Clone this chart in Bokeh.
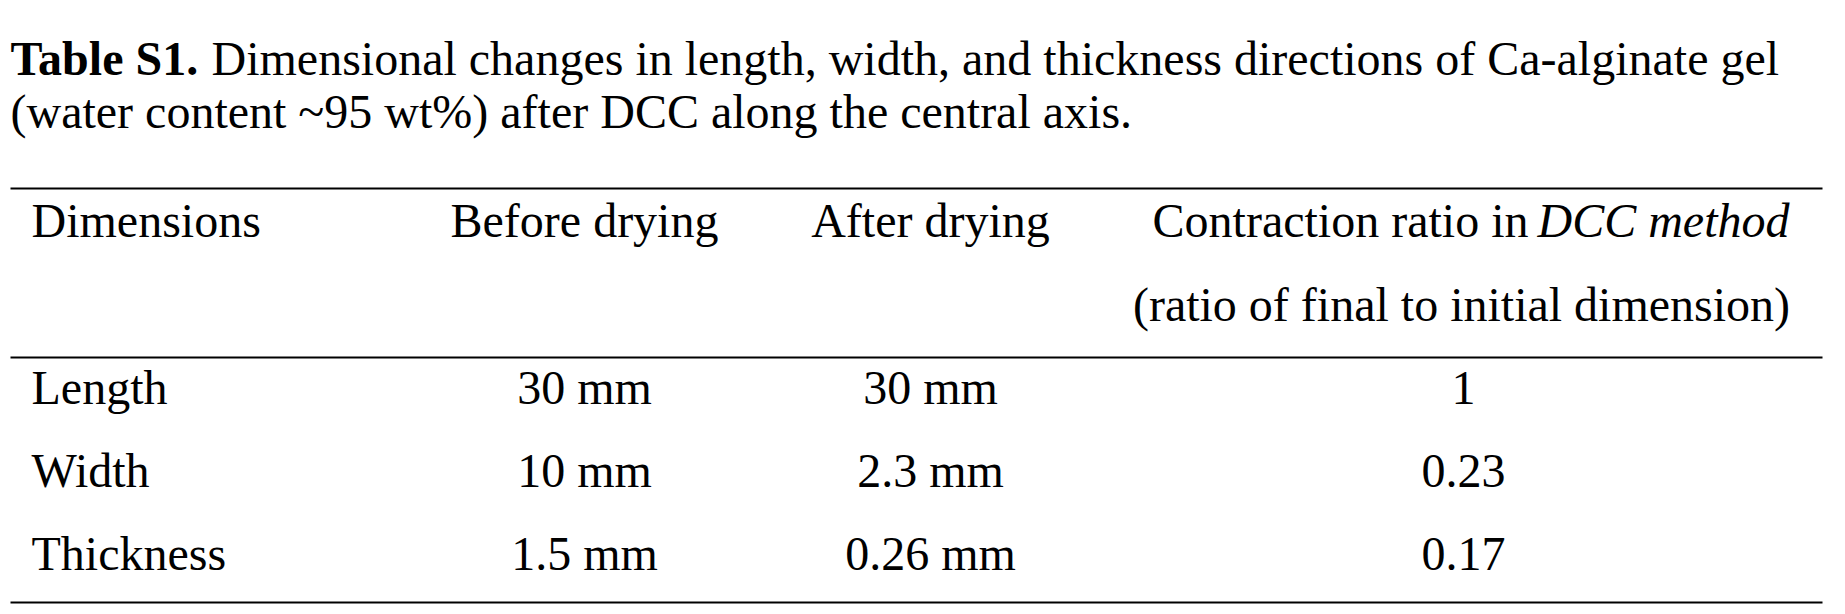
from bokeh.plotting import figure
from bokeh.models import Range1d
from bokeh.core.properties import value
from bokeh.embed import file_html
from bokeh.resources import INLINE

title_bold = "Table S1."
title_rest = "Dimensional changes in length, width, and thickness directions of Ca-alginate gel"
title_line2 = "(water content ~95 wt%) after DCC along the central axis."

headers = ["Dimensions", "Before drying", "After drying"]
header4_plain = "Contraction ratio in "
header4_italic = "DCC method"
header4_line2 = "(ratio of final to initial dimension)"

dimensions = ["Length", "Width", "Thickness"]
before = ["30 mm", "10 mm", "1.5 mm"]
after = ["30 mm", "2.3 mm", "0.26 mm"]
ratio = ["1", "0.23", "0.17"]

W, H = 1829, 606
FONT = value("Liberation Serif")
FS = "48px"

p = figure(width=W, height=H, output_backend="svg", toolbar_location=None,
           x_range=Range1d(0, W), y_range=Range1d(H, 0), min_border=0)
p.axis.visible = False
p.grid.visible = False
p.outline_line_color = None


def txt(x, y, s, align="left", style="normal"):
    p.text(x=[x], y=[y], text=[s], text_font=FONT, text_font_size=FS,
           text_align=align, text_baseline="middle", text_font_style=style,
           text_color="black")


# caption
txt(10, 58, title_bold, style="bold")
txt(211, 58, title_rest)
txt(10, 111, title_line2)

# rules
for y in [188, 357, 602]:
    p.line(x=[10, 1822], y=[y, y], line_color="black", line_width=2)

# header
col_x = [31, 584, 930]
txt(col_x[0], 220, headers[0])
txt(col_x[1], 220, headers[1], align="center")
txt(col_x[2], 220, headers[2], align="center")
txt(1528, 220, header4_plain.rstrip(), align="right")
txt(1537, 220, header4_italic, style="italic")
txt(1461, 304, header4_line2, align="center")

# body
row_y = [387, 470, 553]
for i, y in enumerate(row_y):
    txt(col_x[0], y, dimensions[i])
    txt(col_x[1], y, before[i], align="center")
    txt(col_x[2], y, after[i], align="center")
    txt(1463, y, ratio[i], align="center")

open("out.html", "w").write(file_html(p, INLINE))
